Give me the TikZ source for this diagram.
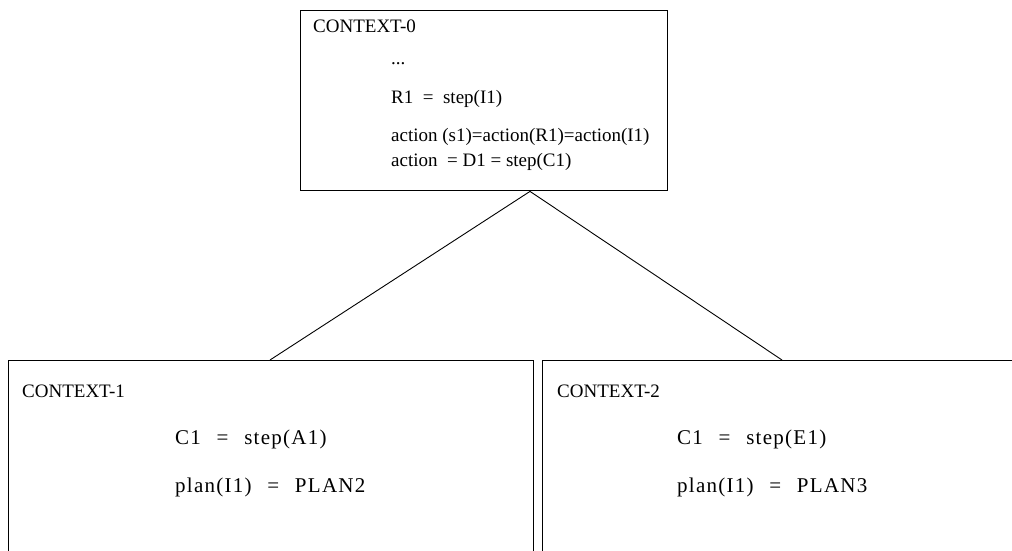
\documentclass[tikz,border=0pt]{standalone}
\usepackage{fontspec}
\setmainfont{Liberation Serif}
\usetikzlibrary{calc}
\begin{document}
\begin{tikzpicture}[x=1pt,y=-1pt,
  ctxbox/.style={draw, line width=1.4pt, inner sep=0pt, anchor=north west},
  lbl/.style={anchor=base west, inner sep=0pt, font=\fontsize{19}{23}\selectfont},
  eqn/.style={anchor=base west, inner sep=0pt,
    font=\fontsize{21}{25}\selectfont\addfontfeature{LetterSpace=6}},
  link/.style={line width=0.9pt}]
\useasboundingbox (0,0) rectangle (1012,551);
\clip (0,0) rectangle (1012,551);
\newcommand{\eqs}{\enskip=\enskip}
\newcommand{\weq}{\hspace{0.75em}=\hspace{0.75em}}

% parent context
\node[ctxbox, minimum width=367pt, minimum height=180pt] (c0) at (300,10) {};
\node[lbl] (c0t) at (313,33) {CONTEXT-0};
\node[lbl] (c0a) at (391,64) {...};
\node[lbl] (c0b) at (391,103) {R1\eqs step(I1)};
\node[lbl] (c0c) at (391,141) {action (s1)=action(R1)=action(I1)};
\node[lbl] (c0d) at (391,166) {action\enskip= D1 = step(C1)};

% child contexts, running past the lower and right edges
\node[ctxbox, minimum width=525pt, minimum height=240pt] (c1) at (8,360) {};
\node[lbl] (c1t) at (22,397) {CONTEXT-1};
\node[eqn] (c1a) at (175,444) {C1\weq step(A1)};
\node[eqn] (c1b) at (175,492) {plan(I1)\weq PLAN2};

\node[ctxbox, minimum width=490pt, minimum height=240pt] (c2) at (542,360) {};
\node[lbl] (c2t) at (557,397) {CONTEXT-2};
\node[eqn] (c2a) at (677,444) {C1\weq step(E1)};
\node[eqn] (c2b) at (677,492) {plan(I1)\weq PLAN3};

% tree links
\coordinate (apex) at ($(c0.south west)+(230,0)$);
\coordinate (l1) at ($(c1.north west)+(262,0)$);
\coordinate (l2) at ($(c2.north west)+(240,0)$);
\draw[link] (apex) -- (l1);
\draw[link] (apex) -- (l2);
\end{tikzpicture}
\end{document}
